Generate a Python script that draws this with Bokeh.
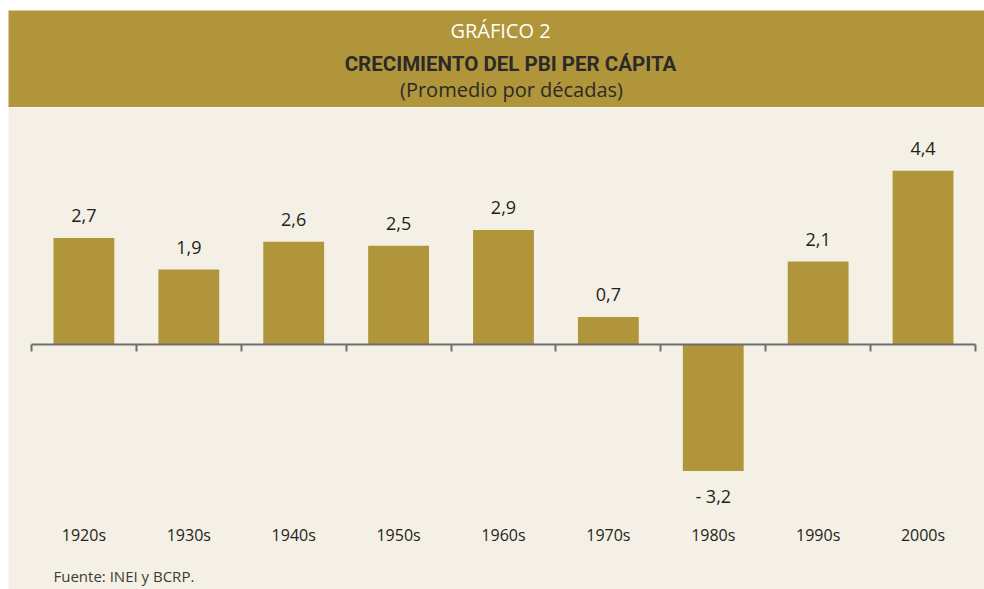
from bokeh.plotting import figure
from bokeh.layouts import column
from bokeh.models import ColumnDataSource, Range1d, LinearAxis, FixedTicker
from bokeh.core.properties import value
from bokeh.embed import file_html
from bokeh.resources import INLINE

# ---- data ----
categories = ["1920s", "1930s", "1940s", "1950s", "1960s", "1970s", "1980s", "1990s", "2000s"]
growth = [2.7, 1.9, 2.6, 2.5, 2.9, 0.7, -3.2, 2.1, 4.4]
value_labels = ["2,7", "1,9", "2,6", "2,5", "2,9", "0,7", "- 3,2", "2,1", "4,4"]
header_texts = ["GRÁFICO 2", "CRECIMIENTO DEL PBI PER CÁPITA", "(Promedio por décadas)"]
source_text = "Fuente: INEI y BCRP."

GOLD = "#B0953A"
CREAM = "#F5F0E5"
DARK = "#231F20"
AXIS = "#6D6E71"
FONT = value("Open Sans")

W = 984
LEFT_GAP = 8
TOP_GAP = 10
HEAD_H = 107
CHART_H = 482

# ---- header (data coords = page pixels) ----
h = figure(width=W, height=HEAD_H, x_range=Range1d(LEFT_GAP, W), y_range=Range1d(HEAD_H, TOP_GAP),
           output_backend="svg", toolbar_location=None,
           x_axis_location=None, y_axis_location=None,
           min_border=0, min_border_left=LEFT_GAP, min_border_right=0,
           min_border_top=TOP_GAP, min_border_bottom=0)
h.background_fill_color = GOLD
h.border_fill_color = "white"
h.outline_line_color = None
h.grid.visible = False
h.text(x=[500], y=[30], text=[header_texts[0]], text_font=FONT, text_font_size="20px",
       text_color="white", text_align="center", text_baseline="middle")
h.text(x=[510], y=[63], text=[header_texts[1]], text_font=value("Roboto"), text_font_size="20.5px",
       text_font_style="bold", text_color="#2B2A29", text_align="center", text_baseline="middle")
h.text(x=[511], y=[89], text=[header_texts[2]], text_font=FONT, text_font_size="20px",
       text_color="#2B2A29", text_align="center", text_baseline="middle")

# ---- chart ----
n = len(categories)
xs = [i + 0.5 for i in range(n)]
label_y = [v + 0.56 if v >= 0 else v - 0.63 for v in growth]
src = ColumnDataSource(dict(x=xs, top=growth, lab=value_labels, ly=label_y))

p = figure(width=W, height=CHART_H, x_range=Range1d(-0.219, n + 0.086), y_range=Range1d(-6.2, 6.0),
           output_backend="svg", toolbar_location=None,
           x_axis_location=None, y_axis_location=None,
           min_border_left=LEFT_GAP, min_border_right=0, min_border_top=0, min_border_bottom=0)
p.background_fill_color = CREAM
p.border_fill_color = "white"
p.outline_line_color = None
p.grid.visible = False

p.vbar(x="x", top="top", bottom=0, width=0.58, source=src, fill_color=GOLD, line_color=None)

ax = LinearAxis(fixed_location=0, bounds=(0, n),
                ticker=FixedTicker(ticks=xs, minor_ticks=list(range(n + 1))),
                major_label_overrides={x: c for x, c in zip(xs, categories)})
ax.axis_line_color = AXIS
ax.axis_line_width = 2
ax.major_tick_line_color = None
ax.major_tick_in = 0
ax.major_tick_out = 0
ax.minor_tick_line_color = AXIS
ax.minor_tick_line_width = 2
ax.minor_tick_in = 0
ax.minor_tick_out = 7
ax.major_label_text_font = "Open Sans"
ax.major_label_text_font_size = "16px"
ax.major_label_text_color = DARK
ax.major_label_standoff = 172
p.add_layout(ax, "below")

p.text(x="x", y="ly", text="lab", source=src, text_font=FONT, text_font_size="18px",
       text_color=DARK, text_align="center", text_baseline="middle")
p.text(x=[0.21], y=[-5.87], text=[source_text], text_font=FONT, text_font_size="15px",
       text_color="#3a3a3a", text_align="left", text_baseline="middle")

layout = column(h, p, spacing=0)
open("out.html", "w").write(file_html(layout, INLINE))
